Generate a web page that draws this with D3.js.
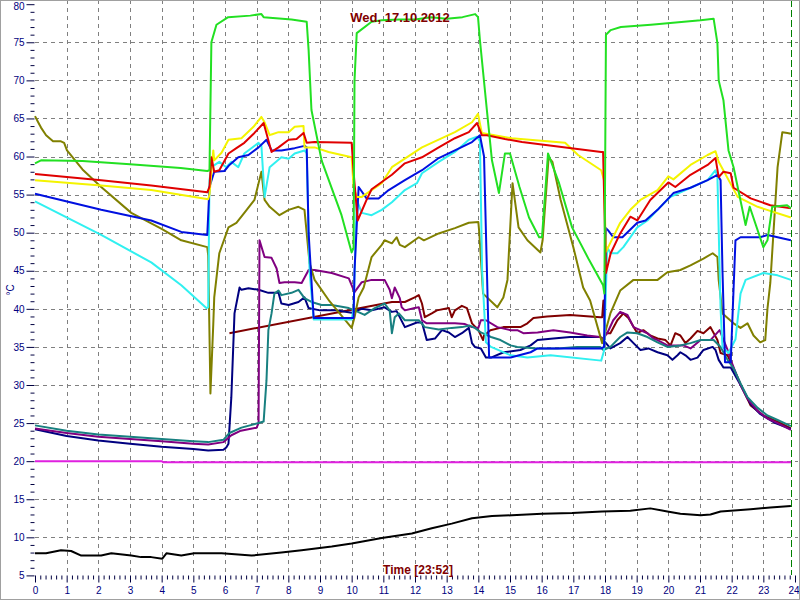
<!DOCTYPE html>
<html><head><meta charset="utf-8">
<script src="https://cdn.jsdelivr.net/npm/d3@7"></script>
<style>body{margin:0;background:#fff}svg{display:block}</style>
</head><body>
<svg id="chart" width="800" height="600"></svg>
<script>
// ---- data (hour of day, °C) ----
const xTickLabels = ["0","1","2","3","4","5","6","7","8","9","10","11","12","13","14","15","16","17","18","19","20","21","22","23","24"];
const yTickValues = [5,10,15,20,25,30,35,40,45,50,55,60,65,70,75,80];
const titleText = "Wed, 17.10.2012";
const xTitleText = "Time [23:52]";
const yTitleText = "°C";
const markerHour = 23 + 52/60;

const greenSeries = [[0,59.1],[0.19,59.5],[1.5,59.4],[3,59.0],[4.6,58.5],[5.44,58.1],[5.51,58.2],[5.57,75],[5.73,77.3],[6.1,78.3],[6.8,78.5],[7.15,78.7],[7.22,78.3],[8.1,78.0],[8.58,77.7],[8.64,74.0],[8.73,66.1],[9.05,59.5],[9.68,52.3],[10.0,47.4],[10.06,48],[10.09,70],[10.16,76.2],[10.63,77.7],[10.95,77.9],[11.5,78.0],[12,78.0],[12.5,78.3],[13,78.1],[13.5,78.3],[13.9,78.7],[13.99,78.3],[14.05,75.3],[14.27,66.1],[14.43,59.5],[14.65,55.2],[14.84,60.4],[15,60.4],[15.3,56],[15.6,52],[15.92,49.4],[16.01,49.4],[16.2,60.4],[16.55,56.5],[16.96,50.7],[17.5,46.4],[17.94,43.1],[17.98,42],[18.03,76.0],[18.18,76.6],[18.5,77.0],[19.45,77.3],[21.02,77.9],[21.43,78.1],[21.55,74.9],[21.59,70.0],[21.74,67.4],[21.9,60.8],[22.06,58.6],[22.44,51.0],[22.57,53.4],[23.0,48.1],[23.13,49.0],[23.28,53.4],[23.75,53.6],[23.87,53.2]];
const yellowSeries = [[0,56.9],[2.09,56.2],[3.67,55.6],[5.47,54.4],[5.51,55],[5.63,60.8],[5.66,59.5],[5.89,60.5],[6.11,62.2],[6.52,62.4],[6.9,63.9],[7.15,65.2],[7.25,64.5],[7.41,62.8],[7.47,62.9],[7.69,63.2],[8.01,63.2],[8.2,63.9],[8.48,64.0],[8.51,61.2],[8.83,61.2],[9.27,60.6],[10.0,59.9],[10.06,56],[10.16,54.7],[10.32,54.7],[10.95,56.5],[11.27,58.6],[12.22,61.2],[13.26,63.2],[13.8,64.5],[13.99,65.6],[14.11,63.1],[15.06,62.4],[16.74,61.8],[17.15,60.2],[17.88,58.2],[17.97,56.9],[18.03,47.5],[18.16,48.6],[18.48,51.3],[18.8,53.0],[19.12,54.3],[19.66,55.6],[20.0,57.4],[20.16,57.0],[20.7,58.9],[21.24,60.2],[21.49,60.7],[21.59,59.3],[22.19,54.7],[22.82,53.4],[23.87,52.0]];
const redSeries = [[0,57.7],[2.09,56.9],[3.67,56.2],[5.44,55.3],[5.51,56],[5.57,59.9],[5.66,58.0],[5.82,58.2],[6.11,60.4],[6.36,61.1],[6.61,61.8],[6.93,63.1],[7.22,64.4],[7.47,60.6],[7.69,61.2],[8.01,62.2],[8.26,62.3],[8.48,63.1],[8.58,61.8],[8.83,61.9],[10.0,61.8],[10.06,58],[10.19,51.6],[10.47,54.3],[10.63,55.7],[11.27,57.6],[11.68,59.1],[12.22,59.9],[12.75,61.2],[13.26,62.4],[13.7,63.2],[13.96,64.4],[14.11,62.8],[14.27,62.8],[14.84,62.3],[15.38,61.9],[17.88,60.6],[17.94,60.6],[18.03,44.7],[18.18,47.3],[18.48,49.9],[18.8,52.1],[19.02,51.6],[19.43,54.3],[20.0,56.6],[20.22,56.0],[20.7,57.6],[21.24,58.9],[21.49,59.8],[21.59,57.3],[21.74,58.0],[21.97,57.8],[22.06,55.9],[22.6,54.5],[23.22,53.6],[23.87,53.2]];
const blueSeries = [[0,55.1],[2.09,53.0],[3.67,51.6],[4.62,50.1],[5.44,49.7],[5.51,56.0],[5.66,58.0],[5.98,58.1],[6.14,58.9],[6.42,59.9],[6.74,60.2],[7.06,61.2],[7.31,62.2],[7.47,60.8],[7.78,60.8],[8.2,61.1],[8.51,61.4],[8.58,61.2],[8.64,50],[8.8,38.8],[10.06,38.8],[10.09,45],[10.22,56.0],[10.47,54.5],[10.85,54.5],[11.17,55.6],[11.68,56.9],[12.22,58.2],[12.75,59.8],[13.26,60.8],[13.8,61.9],[14.05,62.8],[14.18,60],[14.34,33.6],[15.02,33.6],[15.65,34.3],[15.87,34.8],[17.88,34.8],[17.97,35],[18.03,50.6],[18.1,50.3],[18.26,49.4],[18.55,49.4],[19.02,51.3],[19.28,51.6],[19.66,53.0],[20.16,55.2],[20.7,55.9],[21.24,56.9],[21.55,57.6],[21.65,56.9],[21.71,45],[21.79,33],[21.97,33],[22.12,49.0],[22.28,49.4],[22.9,49.4],[23.13,49.7],[23.45,49.4],[23.87,49.0]];
const cyanSeries = [[0,54.1],[2.09,49.7],[3.67,46.1],[4.62,43.1],[5.41,40.1],[5.47,40.2],[5.51,56.9],[5.57,58.6],[5.82,59.3],[6.04,58.6],[6.2,59.3],[6.42,58.6],[6.61,60.4],[7.06,61.8],[7.15,61.4],[7.25,54.7],[7.41,58.6],[7.78,59.9],[8.01,59.7],[8.2,60.4],[8.51,60.8],[8.58,60.4],[8.67,45],[8.8,38.6],[10.0,38.6],[10.06,40],[10.16,54.3],[10.32,52.6],[10.63,52.3],[10.95,53.0],[11.27,54.0],[11.68,55.6],[12.06,56.5],[12.22,57.8],[12.75,59.3],[13.26,60.6],[13.7,62.2],[13.96,62.6],[14.05,62.0],[14.12,45],[14.24,35.6],[14.4,35.0],[15.02,33.9],[15.55,33.6],[16.28,33.9],[17.88,33.2],[17.97,34.5],[18.07,48.1],[18.17,47.3],[18.39,47.3],[18.58,48.1],[19.02,50.7],[19.34,51.6],[19.66,53.0],[20.07,54.7],[20.7,55.9],[21.24,56.9],[21.49,58.2],[21.55,57.3],[21.65,40],[21.71,35.0],[21.9,34.2],[22.12,36],[22.28,42],[22.44,43.8],[23.0,44.7],[23.45,44.4],[23.87,43.8]];
const oliveSeries = [[0,65.3],[0.1,64.5],[0.19,63.8],[0.35,62.8],[0.57,62.0],[0.82,62.0],[0.92,61.8],[1.01,60.8],[1.5,58.3],[2.09,56.0],[3.04,52.6],[4.0,50.5],[4.62,49.0],[5.44,48.1],[5.47,47],[5.54,28.9],[5.63,38],[5.66,41.5],[5.82,47.3],[6.11,50.7],[6.36,51.3],[6.61,52.6],[6.93,54.3],[7.09,57],[7.15,58.0],[7.25,54.3],[7.41,53.4],[7.72,52.3],[8.01,53.0],[8.32,53.4],[8.51,53.0],[8.67,46.0],[8.83,43.8],[9.3,41.0],[10.0,37.5],[10.09,38.9],[10.22,41.5],[10.38,42.8],[10.63,46.8],[10.95,48.4],[11.04,49.0],[11.27,48.6],[11.42,49.4],[11.52,48.4],[11.68,48.1],[12.12,49.4],[12.28,49.0],[12.75,49.9],[13.26,50.6],[13.7,51.3],[14.0,51.4],[14.03,50],[14.15,42.0],[14.6,40.2],[14.79,41.5],[14.92,43.8],[15.08,56.5],[15.27,50.7],[15.55,49.0],[15.96,47.4],[16.03,49.0],[16.22,59.9],[16.34,59.3],[16.6,54.3],[17.0,48.1],[17.31,42.8],[17.53,41.1],[17.91,35.5],[18.17,39.4],[18.48,42.4],[18.9,43.8],[19.66,43.8],[19.97,44.8],[20.38,45.1],[20.7,45.7],[21.11,46.6],[21.4,47.3],[21.55,46.8],[21.59,43.8],[21.71,39.4],[22.06,38.1],[22.28,37.5],[22.5,38.1],[22.69,36.5],[22.9,35.6],[23.06,35.9],[23.13,40],[23.22,43.4],[23.45,58.6],[23.6,63.2],[23.76,63.1],[23.87,63.0]];
const purpleSeries = [[0,24.3],[1,23.7],[2,23.2],[3,22.9],[4,22.6],[5,22.3],[5.47,22.2],[5.95,22.5],[6.2,23.4],[6.5,24.0],[7.0,24.4],[7.06,25],[7.09,49.0],[7.25,46.8],[7.47,46.7],[7.63,45.3],[7.72,43.4],[7.88,43.5],[8.2,43.5],[8.42,43.4],[8.64,45.1],[8.83,45.1],[9.37,44.7],[9.91,44.0],[10.09,42.2],[10.32,43.5],[10.63,43.8],[11.04,43.8],[11.2,42.5],[11.27,41.4],[11.36,42.8],[11.52,41.4],[11.58,40.2],[11.68,39.8],[11.99,40.1],[12.12,40.2],[12.22,38.5],[12.37,38.1],[13.26,38.1],[13.58,38.0],[13.8,37.6],[14.0,37.5],[14.08,38.5],[14.24,38.5],[14.6,37.6],[15.02,37.2],[15.23,37.2],[15.42,36.8],[15.87,36.9],[16.37,37.2],[16.9,36.9],[17.44,36.5],[17.85,36.3],[17.94,36.1],[18.07,36.8],[18.26,38.5],[18.48,39.6],[18.71,39.2],[18.9,37.6],[19.34,36.8],[19.53,36.1],[19.66,35.9],[19.97,35.2],[20.48,35.2],[20.7,34.8],[21.02,35.9],[21.33,35.9],[21.62,37.2],[21.87,34.6],[21.97,33.3],[22.28,30.0],[22.5,28.2],[22.82,26.6],[23.13,25.6],[23.45,25.0],[23.87,24.1]];
const navySeries = [[0,24.2],[1,23.3],[2,22.7],[3,22.3],[4,21.9],[5,21.6],[5.47,21.4],[5.95,21.5],[6.04,21.8],[6.11,22.3],[6.2,28.4],[6.3,39.4],[6.46,42.8],[6.52,42.5],[6.74,42.7],[7.06,42.5],[7.37,42.1],[7.69,42.1],[7.78,40.7],[8.01,40.5],[8.32,40.9],[8.51,41.5],[8.64,40.1],[9.0,39.8],[9.5,39.8],[10.0,39.5],[10.32,40],[10.63,39.8],[11.04,40.2],[11.27,39.6],[11.42,39.7],[11.68,37.6],[12.06,38.2],[12.22,38.2],[12.37,35.9],[12.63,36.1],[12.85,37.2],[13.07,36.9],[13.26,36.3],[13.48,36.8],[13.7,37.5],[13.8,35.5],[13.89,35.0],[14.08,34.8],[14.24,33.6],[14.4,33.6],[14.8,34.3],[15.33,34.6],[15.65,35.2],[15.87,35.9],[16.37,36.1],[16.9,36.3],[17.85,36.3],[17.95,35.9],[18.17,34.8],[18.48,35.5],[18.71,36.3],[18.9,35.5],[19.12,34.6],[19.37,34.8],[19.66,34.3],[19.97,33.9],[20.13,33.3],[20.29,33.9],[20.38,34.3],[20.54,33.9],[20.7,33.3],[20.92,33.6],[21.11,34.6],[21.4,35.0],[21.49,34.6],[21.59,33.3],[21.74,32.3],[21.97,32.3],[22.28,30.0],[22.6,27.5],[22.9,26.2],[23.38,25.0],[23.87,24.2]];
const tealSeries = [[0,24.7],[1,24.0],[2,23.5],[3,23.2],[4,22.9],[5,22.6],[5.47,22.5],[5.95,22.8],[6.14,23.7],[6.52,24.4],[7.06,25.0],[7.22,25.2],[7.31,30.6],[7.37,37.2],[7.47,39.4],[7.56,42.0],[7.69,42.4],[7.78,41.8],[8.1,42.1],[8.32,42.5],[8.51,41.4],[8.73,40.9],[9.05,40.5],[9.37,40.5],[9.91,40.1],[10.09,39.8],[10.41,39.2],[10.73,40.1],[11.04,40.7],[11.2,39.8],[11.27,36.8],[11.36,38.9],[11.49,39.4],[11.68,38.5],[12.12,38.5],[12.31,37.6],[12.75,37.3],[13.16,37.5],[13.48,37.6],[13.73,37.8],[13.89,37.5],[14.08,36.9],[14.4,36.3],[14.7,35.9],[15.02,35.2],[15.23,35.0],[15.87,34.8],[16.5,34.8],[17.12,35.0],[17.85,35.0],[17.95,34.6],[18.17,35.0],[18.48,36.3],[18.71,36.9],[19.02,36.8],[19.34,36.3],[19.66,35.6],[19.97,35.0],[20.38,35.2],[20.7,35.5],[21.02,35.9],[21.43,35.9],[21.65,35.0],[21.87,33.3],[22.06,32.2],[22.28,30.2],[22.5,28.4],[22.82,27.0],[23.13,26.0],[23.45,25.4],[23.87,24.6]];
const maroonSeries = [[6.14,36.8],[11.27,40.9],[11.68,40.9],[11.99,41.5],[12.12,41.8],[12.22,40.7],[12.31,38.9],[12.53,39.4],[12.69,39.8],[13.07,40.1],[13.16,38.9],[13.26,39.8],[13.48,40.4],[13.64,40.1],[13.8,38.1],[14.0,37.2],[14.15,35.9],[14.18,36.5],[14.38,37.2],[14.79,37.6],[15.33,37.6],[15.55,38.1],[15.74,38.8],[16.17,39.0],[16.9,39.2],[17.85,38.9],[17.91,38.9],[17.95,41.1],[18.01,36.8],[18.17,36.8],[18.39,38.5],[18.58,39.4],[18.74,38.8],[19.02,36.8],[19.21,37.2],[19.43,36.5],[19.66,36.1],[19.91,35.9],[20.07,35.2],[20.22,36.8],[20.38,36.5],[20.54,35.5],[20.7,36.1],[20.92,37.1],[21.11,36.8],[21.33,37.6],[21.55,35.9],[21.65,34.2],[21.87,33.9],[21.97,33.0],[22.28,30.1],[22.6,27.3],[23.0,26.0],[23.45,25.2],[23.87,24.3]];
const magentaSeries = [[0,20.0],[4.0,20.0],[4.05,19.85],[23.87,19.85]];
const blackSeries = [[0,7.9],[0.35,7.9],[0.82,8.3],[1.14,8.2],[1.46,7.6],[2.09,7.6],[2.41,7.9],[3.04,7.6],[3.35,7.4],[3.67,7.4],[4.02,7.2],[4.15,7.9],[4.62,7.6],[5.03,7.9],[5.89,7.9],[6.84,7.6],[7.78,8.0],[8.42,8.3],[9.37,8.8],[10.0,9.2],[10.95,9.9],[11.9,10.5],[12.53,11.2],[13.16,11.8],[13.8,12.5],[14.43,12.8],[15.06,12.9],[16.01,13.1],[16.96,13.2],[17.91,13.4],[18.8,13.5],[19.43,13.8],[19.97,13.4],[20.38,13.1],[21.02,12.9],[21.33,13.0],[21.65,13.4],[21.97,13.5],[22.6,13.7],[23.22,13.9],[23.87,14.1]];

// ---- drawing ----
const seriesList = [
  {data: blackSeries, color: "#000000"},
  {data: magentaSeries, color: "#e020e0"},
  {data: maroonSeries, color: "#800000"},
  {data: navySeries, color: "#000080"},
  {data: purpleSeries, color: "#800080"},
  {data: tealSeries, color: "#188080"},
  {data: oliveSeries, color: "#808000"},
  {data: cyanSeries, color: "#30f0f0"},
  {data: blueSeries, color: "#0010e0"},
  {data: yellowSeries, color: "#f4f400"},
  {data: redSeries, color: "#e00000"},
  {data: greenSeries, color: "#22e022"}
];

const svg = d3.select("#chart");
const W = 800, H = 600;
const x = d3.scaleLinear().domain([0, 24]).range([35, 795]);
const y = d3.scaleLinear().domain([5, 80]).range([575.4, 4.2]);
const font = "'Liberation Sans', Arial, sans-serif";

svg.append("rect").attr("x",0).attr("y",0).attr("width",W).attr("height",H).attr("fill","#fff");

// grid
const g = svg.append("g");
g.selectAll("line.vg").data(d3.range(1, 24)).join("line")
  .attr("x1", d => Math.round(x(d)) + 0.5).attr("x2", d => Math.round(x(d)) + 0.5)
  .attr("y1", 0).attr("y2", 575)
  .attr("stroke", "#808080").attr("stroke-dasharray", "4,4");
g.selectAll("line.hg").data(yTickValues.filter(v => v > 5 && v < 80)).join("line")
  .attr("x1", 35).attr("x2", 798)
  .attr("y1", d => Math.round(y(d)) + 0.5).attr("y2", d => Math.round(y(d)) + 0.5)
  .attr("stroke", "#808080").attr("stroke-dasharray", "4,4");

// marker line for current time
svg.append("line")
  .attr("x1", Math.round(x(markerHour)) + 0.5).attr("x2", Math.round(x(markerHour)) + 0.5)
  .attr("y1", 0).attr("y2", 575)
  .attr("stroke", "#008000").attr("stroke-dasharray", "7,3");

// y axis ticks
const yAxis = d3.axisLeft(y).tickValues(yTickValues).tickSize(8).tickPadding(2).tickFormat(d3.format("d"));
const ya = svg.append("g").attr("transform", "translate(34.5,0)").call(yAxis);
ya.select(".domain").remove();
ya.selectAll(".tick line").attr("stroke", "#000040");
ya.selectAll(".tick text").attr("fill", "#000080").style("font-family", font).style("font-size", "10px");
ya.selectAll(".tick").filter(d => d === 80).select("text").attr("dy", "0.5em");
const yMinor = d3.axisLeft(y).tickValues(d3.range(5, 81, 1).filter(v => v % 5 !== 0)).tickSize(4).tickFormat("");
const ym = svg.append("g").attr("transform", "translate(34.5,0)").call(yMinor);
ym.select(".domain").remove();
ym.selectAll(".tick line").attr("stroke", "#000040");

// x axis ticks
const xAxis = d3.axisBottom(x).tickValues(d3.range(0, 25)).tickSize(7).tickPadding(4)
  .tickFormat((d, i) => xTickLabels[i]);
const xa = svg.append("g").attr("transform", "translate(0,575.5)").call(xAxis);
xa.select(".domain").remove();
xa.selectAll(".tick line").attr("stroke", "#000040");
xa.selectAll(".tick text").attr("fill", "#000080").style("font-family", font).style("font-size", "10px");
xa.selectAll(".tick").filter(d => d === 24).select("text").attr("text-anchor", "end").attr("x", 4);
const xMinor = d3.axisBottom(x).tickValues(d3.range(0, 24 * 6 + 1).map(i => i / 6).filter((v, i) => i % 6 !== 0)).tickSize(4).tickFormat("");
const xm = svg.append("g").attr("transform", "translate(0,575.5)").call(xMinor);
xm.select(".domain").remove();
xm.selectAll(".tick line").attr("stroke", "#000040");

// series lines
const line = d3.line().x(d => x(d[0])).y(d => y(d[1]));
svg.append("g").selectAll("path").data(seriesList).join("path")
  .attr("d", d => line(d.data))
  .attr("fill", "none").attr("stroke", d => d.color)
  .attr("stroke-width", 2).attr("stroke-linejoin", "round");

// texts
svg.append("text").attr("x", 400).attr("y", 22).attr("text-anchor", "middle")
  .style("font-family", font).style("font-size", "13px").style("font-weight", "bold")
  .attr("fill", "#800000").text(titleText);
svg.append("text").attr("x", 418).attr("y", 574).attr("text-anchor", "middle")
  .style("font-family", font).style("font-size", "12px").style("font-weight", "bold")
  .attr("fill", "#800000").text(xTitleText);
svg.append("text").attr("transform", "translate(14,290) rotate(-90)").attr("text-anchor", "middle")
  .style("font-family", font).style("font-size", "10px")
  .attr("fill", "#000080").text(yTitleText);

// frame
svg.append("rect").attr("x", 0.5).attr("y", 0.5).attr("width", W - 1).attr("height", H - 1)
  .attr("fill", "none").attr("stroke", "#a0a0a0");
</script>
</body></html>
